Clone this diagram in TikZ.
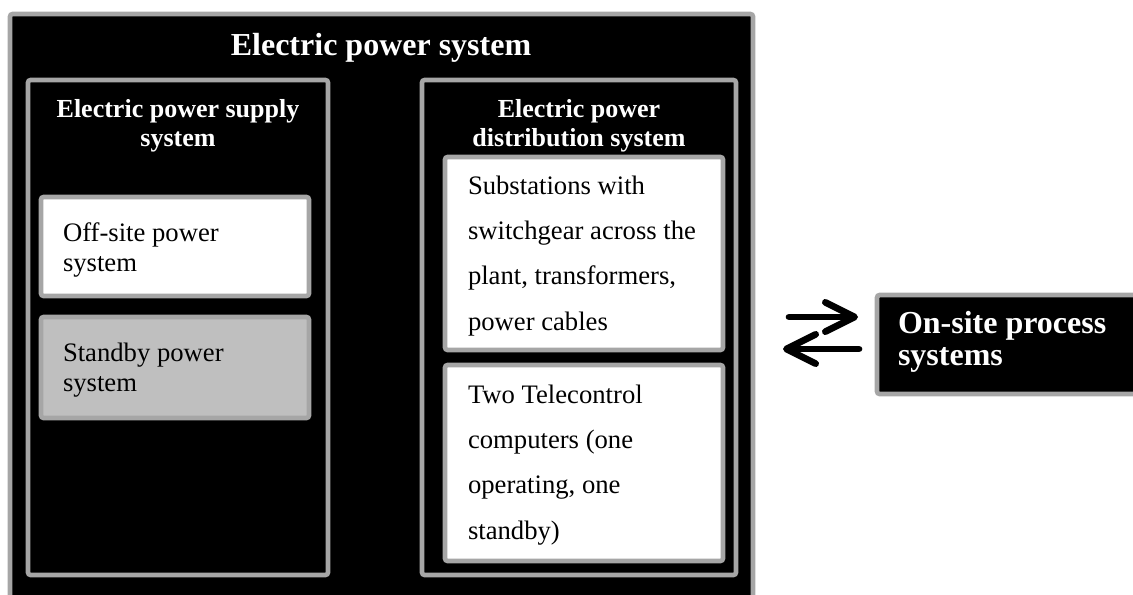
\documentclass[tikz,border=0pt]{standalone}
\usepackage{fontspec}
\setmainfont{Liberation Serif}
\usetikzlibrary{arrows.meta, positioning, fit}
\definecolor{sframe}{HTML}{A6A6A6}
\definecolor{sgray}{HTML}{BFBFBF}
% text with fixed top/bottom struts, so it sits where it should in its box
\newcommand{\boxtext}[3]{\rule{0pt}{#1}#3\rule[-#2]{0pt}{#2}}
\tikzset{
  blkbox/.style={draw=sframe, fill=black, line width=3.5pt, rounded corners=2pt, inner sep=0pt},
  wbox/.style={blkbox, fill=white, text width=#1, align=flush left,
               font=\fontsize{20}{34}\selectfont},
  hdr/.style={text=white, text width=200pt, align=flush center, inner sep=0pt,
              font=\bfseries\fontsize{19.5}{21.75}\selectfont},
  arr/.style={-{Straight Barb[round, length=22pt, width=22pt]}, line width=5pt, line cap=round},
}

\begin{document}
\begin{tikzpicture}[x=0.75pt, y=-0.75pt]
  \useasboundingbox (0,0) rectangle (1133,594);
  \clip (0,0) rectangle (1133,594);
  % electric power system
  \node[blkbox, fit={(10,14) (753,620)}] (eps) {};
  \node[anchor=base, text=white, inner sep=0pt, font=\bfseries\fontsize{24}{28}\selectfont]
    (epstitle) at (381,55) {Electric power system};
  % supply side
  \node[blkbox, fit={(28,80) (328,575)}] (supply) {};
  \node[hdr, anchor=north] (supplyhdr) at (178,99) {Electric power supply system};
  \node[wbox=168pt, minimum width=201pt, minimum height=74.25pt,
        font=\fontsize{20}{22.5}\selectfont] (offsite) at (175,246.5)
    {\boxtext{21.3pt}{6pt}{Off-site power system}};
  \node[wbox=168pt, fill=sgray, minimum width=201pt, minimum height=75.75pt,
        font=\fontsize{20}{22.5}\selectfont] (standby) at (175,367.5)
    {\boxtext{19.8pt}{6pt}{Standby power system}};
  % distribution side
  \node[blkbox, fit={(422,80) (736,575)}] (dist) {};
  \node[hdr, anchor=north] (disthdr) at (579,99) {Electric power distribution system};
  \node[wbox=174pt, minimum width=208.5pt, minimum height=144.75pt] (subst) at (584,253.5)
    {\boxtext{18.75pt}{6pt}{Substations with switchgear across the plant, transformers, power cables}};
  \node[wbox=174pt, minimum width=208.5pt, minimum height=147pt] (telectl) at (584,463)
    {\boxtext{18pt}{6pt}{Two Telecontrol computers (one operating, one standby)}};
  % process systems
  \node[blkbox, minimum width=212.25pt, minimum height=74.25pt, text=white,
        text width=180.75pt, align=flush left,
        font=\bfseries\fontsize{24}{24}\selectfont] (onsite) at (1018.5,344.5)
    {\boxtext{17.75pt}{11pt}{On-site process systems}};
  \coordinate (toA) at (789,317);
  \coordinate (toB) at (858,317);
  \coordinate (frA) at (859,349);
  \coordinate (frB) at (783,349);
  \draw[arr] (toA) -- (toB);
  \draw[arr] (frA) -- (frB);
\end{tikzpicture}
\end{document}
